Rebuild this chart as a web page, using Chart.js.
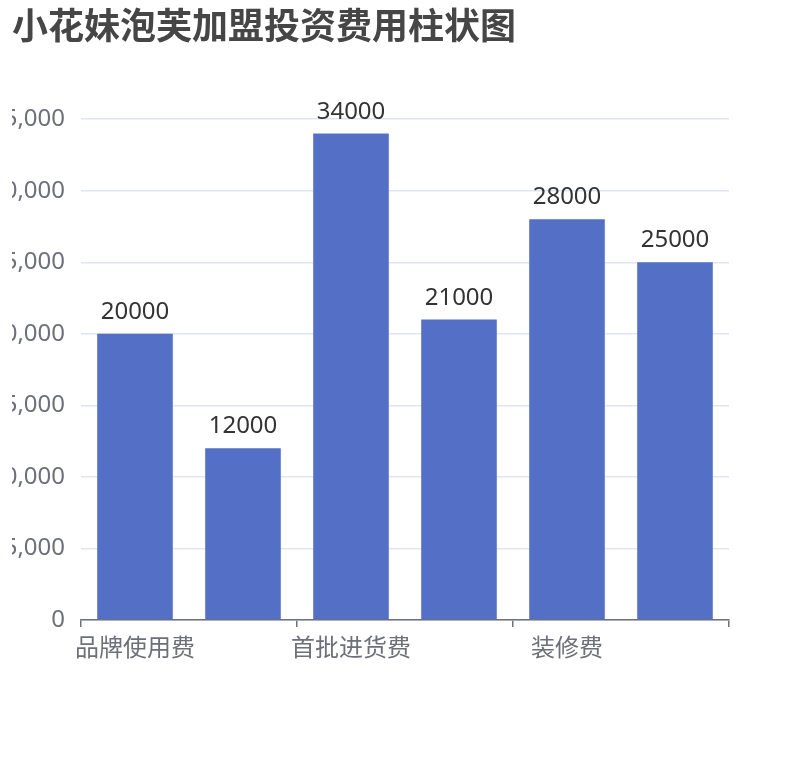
<!DOCTYPE html>
<html>
<head>
<meta charset="utf-8">
<script src="https://cdn.jsdelivr.net/npm/chart.js@4.4.0/dist/chart.umd.min.js"></script>
<style>
html,body{margin:0;padding:0;background:#fff;}
#wrap{width:810px;height:760px;}
</style>
</head>
<body>
<div id="wrap"><canvas id="c" width="810" height="760"></canvas></div>
<script>
const titleText = '小花妹泡芙加盟投资费用柱状图';
const categories = ['品牌使用费', '保证金', '首批进货费', '设备费', '装修费', '房租'];
const costValues = [20000, 12000, 34000, 21000, 28000, 25000];
const yMin = 0;
const yMax = 35000;
const yStep = 5000;

const FONT = '"Noto Sans", "Noto Sans CJK SC", sans-serif';
const TITLE_FONT = '"Noto Sans CJK SC", "Noto Sans", sans-serif';

const valueLabels = {
  id: 'valueLabels',
  afterDatasetsDraw(chart) {
    const ctx = chart.ctx;
    const meta = chart.getDatasetMeta(0);
    const data = chart.data.datasets[0].data;
    ctx.save();
    ctx.font = '24px ' + FONT;
    ctx.fillStyle = '#333333';
    ctx.textAlign = 'center';
    ctx.textBaseline = 'alphabetic';
    meta.data.forEach((bar, i) => {
      ctx.fillText(String(data[i]), bar.x, bar.y - 15);
    });
    ctx.restore();
  }
};

new Chart(document.getElementById('c'), {
  type: 'bar',
  data: {
    labels: categories,
    datasets: [{
      data: costValues,
      backgroundColor: '#5470c6',
      borderWidth: 0,
      barPercentage: 0.7,
      categoryPercentage: 1.0
    }]
  },
  options: {
    responsive: false,
    animation: false,
    layout: { padding: { left: 12, right: 81, top: 0, bottom: 0 } },
    plugins: {
      legend: { display: false },
      tooltip: { enabled: false },
      title: {
        display: true,
        text: titleText,
        align: 'start',
        color: '#464646',
        font: { family: TITLE_FONT, size: 36, weight: 'bold', lineHeight: 1.2 },
        padding: { top: 4, bottom: 72 }
      }
    },
    scales: {
      x: {
        offset: true,
        grid: {
          offset: true,
          drawOnChartArea: false,
          drawTicks: true,
          tickLength: 7,
          lineWidth: 1.5,
          color: (ctx) => (ctx.index === undefined || ctx.index % 2 === 0) ? '#6e7079' : 'rgba(0,0,0,0)'
        },
        border: { display: true, color: '#6e7079', width: 1.5 },
        ticks: {
          autoSkip: false,
          maxRotation: 0,
          minRotation: 0,
          padding: 5,
          color: '#6e7079',
          font: { family: TITLE_FONT, size: 24 },
          callback: function(value, index) { return index % 2 === 0 ? this.getLabelForValue(value) : ''; }
        },
        afterFit: (scale) => { scale.height = 140; }
      },
      y: {
        min: yMin,
        max: yMax,
        grid: { color: '#e0e6f1', lineWidth: 1.5, drawTicks: false },
        border: { display: false },
        ticks: {
          stepSize: yStep,
          padding: 16,
          color: '#6e7079',
          font: { family: FONT, size: 24 },
          callback: (v) => Number(v).toLocaleString('en-US')
        },
        afterFit: (scale) => { scale.width = 69; }
      }
    }
  },
  plugins: [valueLabels]
});
</script>
</body>
</html>
